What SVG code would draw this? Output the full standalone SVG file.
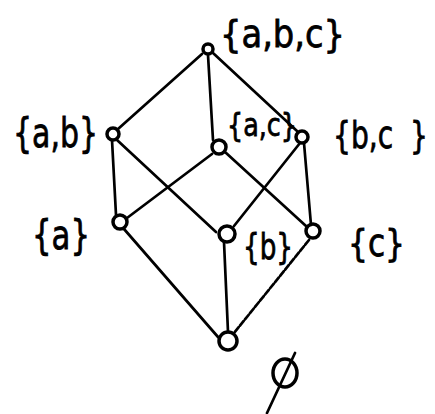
<svg xmlns="http://www.w3.org/2000/svg" width="435" height="414" viewBox="0 0 435 414">
<style>
.n{fill:none;stroke:#000;stroke-width:3.5}
.e{stroke:#000;stroke-width:2.7;stroke-linecap:round;fill:none}
.t{font-family:"DejaVu Sans",sans-serif;fill:#000;stroke:#000;stroke-width:0.8}
</style>
<rect width="435" height="414" fill="#fff"/>
<g id="connectors">
<line class="e" x1="202" y1="54" x2="118" y2="129"/>
<line class="e" x1="208" y1="55" x2="213" y2="140"/>
<line class="e" x1="213" y1="53" x2="297" y2="131"/>
<line class="e" x1="112" y1="140" x2="116" y2="215"/>
<line class="e" x1="117" y1="140" x2="216" y2="232"/>
<line class="e" x1="212" y1="154" x2="127" y2="218"/>
<line class="e" x1="225" y1="152" x2="306" y2="226"/>
<line class="e" x1="300" y1="143" x2="234" y2="226"/>
<line class="e" x1="304" y1="143" x2="311" y2="225"/>
<line class="e" x1="124" y1="229" x2="218" y2="337"/>
<line class="e" x1="224" y1="242" x2="228" y2="332"/>
<line class="e" x1="309" y1="240" x2="234" y2="333" stroke-width="1.5" stroke-dasharray="6 2"/>
</g>
<g id="abc"><circle class="n" cx="208" cy="49" r="5"/><text class="t" x="220" y="47" font-size="38" textLength="125" lengthAdjust="spacingAndGlyphs">{a,b,c}</text></g>
<g id="ab"><circle class="n" cx="113" cy="134" r="6"/><text class="t" x="13" y="147" font-size="40" textLength="85" lengthAdjust="spacingAndGlyphs">{a,b}</text></g>
<g id="ac"><circle class="n" cx="219" cy="147" r="7"/><text class="t" x="227" y="136" font-size="32" textLength="70" lengthAdjust="spacingAndGlyphs">{a,c}</text></g>
<g id="bc"><circle class="n" cx="302" cy="137" r="6"/><text class="t" transform="translate(333,148) scale(0.74,1)" x="0" y="0" font-size="38">{b,c<tspan x="104">}</tspan></text></g>
<g id="a"><circle class="n" cx="120" cy="222" r="7"/><text class="t" x="32" y="249" font-size="40" textLength="58" lengthAdjust="spacingAndGlyphs">{a}</text></g>
<g id="b"><circle class="n" cx="227" cy="234" r="8"/><text class="t" x="243" y="259" font-size="36" textLength="50" lengthAdjust="spacingAndGlyphs">{b}</text></g>
<g id="c"><circle class="n" cx="313" cy="231" r="7"/><text class="t" x="348" y="256" font-size="38" textLength="57" lengthAdjust="spacingAndGlyphs">{c}</text></g>
<g id="empty"><circle class="n" cx="228" cy="341" r="9"/>
<ellipse class="n" cx="285" cy="373" rx="12" ry="14"/><line class="e" x1="295" y1="353" x2="267" y2="413" stroke-width="3"/></g>
</svg>
